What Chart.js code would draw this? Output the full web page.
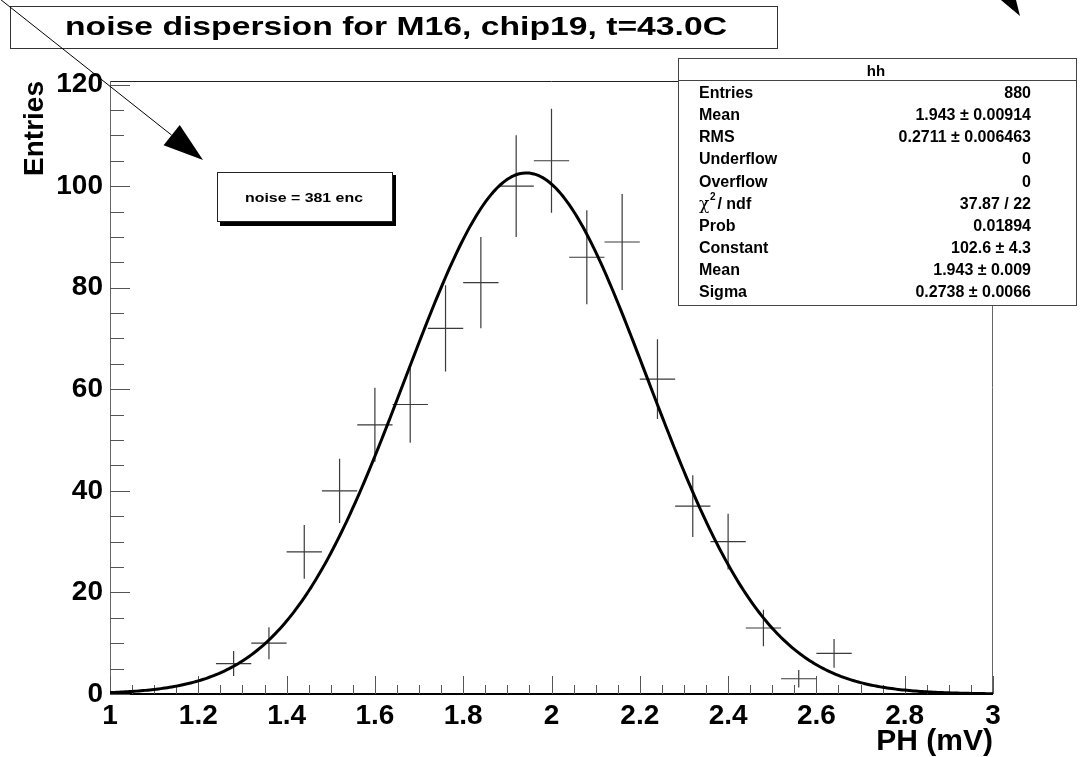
<!DOCTYPE html>
<html>
<head>
<meta charset="utf-8">
<script src="https://cdn.jsdelivr.net/npm/chart.js@4.4.1/dist/chart.umd.min.js"></script>
<style>
html,body{margin:0;padding:0;background:#fff;}
#wrap{width:1083px;height:757px;position:relative;background:#fff;}
canvas{display:block;}
</style>
</head>
<body>
<div id="wrap"><canvas id="c" width="1083" height="757"></canvas></div>
<script>
// ---------------- data ----------------
const binCenters = [1.28, 1.36, 1.44, 1.52, 1.60, 1.68, 1.76, 1.84, 1.92, 2.00, 2.08, 2.16, 2.24, 2.32, 2.40, 2.48, 2.56, 2.64];
const binCounts  = [6, 10, 28, 40, 53, 57, 72, 81, 100, 105, 86, 89, 62, 37, 30, 13, 3, 8];
const binHalfWidth = 0.04;

// Gaussian fit parameters shown in the stats box
const fitConstant = 102.6;
const fitMean = 1.943;
const fitSigma = 0.2738;
const fitRange = [1, 3];

const xTickValues = [1, 1.2, 1.4, 1.6, 1.8, 2, 2.2, 2.4, 2.6, 2.8, 3];
const xTickLabels = ['1', '1.2', '1.4', '1.6', '1.8', '2', '2.2', '2.4', '2.6', '2.8', '3'];
const yTickValues = [0, 20, 40, 60, 80, 100, 120];
const yTickLabels = ['0', '20', '40', '60', '80', '100', '120'];

const titleText = 'noise dispersion for M16, chip19, t=43.0C';
const xTitle = 'PH (mV)';
const yTitle = 'Entries';
const noiseText = 'noise = 381 enc';
const statsName = 'hh';
const statsLabels = ['Entries', 'Mean', 'RMS', 'Underflow', 'Overflow', 'CHI2', 'Prob', 'Constant', 'Mean', 'Sigma'];
const statsValues = ['880', '1.943 \u00b1 0.00914', '0.2711 \u00b1 0.006463', '0', '0', '37.87 / 22', '0.01894', '102.6 \u00b1 4.3', '1.943 \u00b1 0.009', '0.2738 \u00b1 0.0066'];

// ---------------- fit curve (evaluated fit function) ----------------
const fitPoints = [];
for (let k = 0; k <= 400; k++) {
  const x = fitRange[0] + (fitRange[1] - fitRange[0]) * k / 400;
  fitPoints.push({x: x, y: fitConstant * Math.exp(-0.5 * Math.pow((x - fitMean) / fitSigma, 2))});
}

const FONT = '"Liberation Sans", Arial, Helvetica, sans-serif';

function stretchText(ctx, txt, x, y, size, targetW, align) {
  ctx.save();
  ctx.font = 'bold ' + size + 'px ' + FONT;
  const w = ctx.measureText(txt).width;
  const sx = targetW ? targetW / w : 1;
  ctx.textBaseline = 'alphabetic';
  ctx.textAlign = align || 'left';
  ctx.translate(x, y);
  ctx.scale(sx, 1);
  ctx.fillStyle = '#000';
  ctx.fillText(txt, 0, 0);
  ctx.restore();
}

function arrow(ctx, x0, y0, x1, y1, len, half) {
  const dx = x1 - x0, dy = y1 - y0;
  const d = Math.hypot(dx, dy);
  const ux = dx / d, uy = dy / d;
  const bx = x1 - ux * len, by = y1 - uy * len;
  ctx.save();
  ctx.strokeStyle = '#000';
  ctx.lineWidth = 1;
  ctx.beginPath();
  ctx.moveTo(x0, y0);
  ctx.lineTo(bx, by);
  ctx.stroke();
  ctx.fillStyle = '#000';
  ctx.beginPath();
  ctx.moveTo(x1, y1);
  ctx.lineTo(bx - uy * half, by + ux * half);
  ctx.lineTo(bx + uy * half, by - ux * half);
  ctx.closePath();
  ctx.fill();
  ctx.restore();
}

const rootPlugin = {
  id: 'rootStyle',
  beforeDatasetsDraw(chart) {
    const {ctx, chartArea: a, scales: {x, y}} = chart;
    ctx.save();
    // frame
    ctx.lineWidth = 1;
    ctx.strokeStyle = '#222';
    ctx.beginPath(); ctx.moveTo(a.left, a.top + 0.5); ctx.lineTo(a.right, a.top + 0.5); ctx.stroke();
    ctx.strokeStyle = '#666';
    ctx.beginPath(); ctx.moveTo(a.right - 0.5, a.top); ctx.lineTo(a.right - 0.5, a.bottom); ctx.stroke();
    ctx.beginPath(); ctx.moveTo(a.left + 0.5, a.top); ctx.lineTo(a.left + 0.5, a.bottom); ctx.stroke();
    ctx.strokeStyle = '#000';
    ctx.lineWidth = 2;
    ctx.beginPath(); ctx.moveTo(a.left, a.bottom); ctx.lineTo(a.right, a.bottom); ctx.stroke();

    // y ticks (inside)
    ctx.lineWidth = 1;
    ctx.strokeStyle = '#555';
    for (let v = 0; v <= y.max + 1e-9; v += 5) {
      const py = Math.round(y.getPixelForValue(v)) + 0.5;
      const major = Math.abs(v % 20) < 1e-9;
      const L = major ? 20 : 14;
      ctx.beginPath(); ctx.moveTo(a.left, py); ctx.lineTo(a.left + L, py); ctx.stroke();
    }
    // x ticks (inside)
    for (let k = 0; k <= 40; k++) {
      const v = 1 + k * 0.05;
      const px = Math.round(x.getPixelForValue(v)) + 0.5;
      const major = (k % 4) === 0;
      const L = major ? 18 : 9;
      ctx.beginPath(); ctx.moveTo(px, a.bottom); ctx.lineTo(px, a.bottom - L); ctx.stroke();
    }

    // data points with error bars
    ctx.strokeStyle = '#3a3a3a';
    ctx.lineWidth = 1.2;
    binCenters.forEach((c, i) => {
      const n = binCounts[i];
      const e = Math.sqrt(n);
      const px = x.getPixelForValue(c);
      const py = y.getPixelForValue(n);
      ctx.beginPath();
      ctx.moveTo(x.getPixelForValue(c - binHalfWidth), py);
      ctx.lineTo(x.getPixelForValue(c + binHalfWidth), py);
      ctx.moveTo(px, y.getPixelForValue(n - e));
      ctx.lineTo(px, y.getPixelForValue(n + e));
      ctx.stroke();
    });
    ctx.restore();
  },
  afterDraw(chart) {
    const ctx = chart.ctx;
    ctx.save();
    // title box
    ctx.fillStyle = '#fff';
    ctx.fillRect(10, 6, 767, 42);
    ctx.strokeStyle = '#333';
    ctx.lineWidth = 1;
    ctx.strokeRect(10.5, 6.5, 767, 42);
    stretchText(ctx, titleText, 396, 35, 25.5, 662, 'center');

    // noise box with shadow
    ctx.fillStyle = '#000';
    ctx.fillRect(220, 175, 176, 51);
    ctx.fillStyle = '#fff';
    ctx.fillRect(217, 172, 176, 50);
    ctx.strokeStyle = '#222';
    ctx.strokeRect(217.5, 172.5, 175, 49);
    stretchText(ctx, noiseText, 304, 202, 12.5, 118, 'center');

    // stats box
    ctx.fillStyle = '#fff';
    ctx.fillRect(678, 58, 399, 248);
    ctx.strokeStyle = '#444';
    ctx.strokeRect(678.5, 58.5, 398, 247);
    ctx.beginPath(); ctx.moveTo(678, 80.5); ctx.lineTo(1077, 80.5); ctx.stroke();
    stretchText(ctx, statsName, 876, 76, 15, 0, 'center');
    for (let i = 0; i < statsLabels.length; i++) {
      const by = 98.3 + 22.05 * i;
      if (statsLabels[i] === 'CHI2') {
        ctx.save();
        ctx.fillStyle = '#000';
        ctx.font = '17px "DejaVu Serif", "Liberation Serif", serif';
        ctx.textBaseline = 'alphabetic';
        ctx.textAlign = 'left';
        ctx.fillText('\u03c7', 699, by);
        ctx.font = 'bold 10px ' + FONT;
        ctx.fillText('2', 710, by - 9);
        ctx.font = 'bold 16px ' + FONT;
        ctx.fillText(' / ndf', 713, by);
        ctx.restore();
      } else {
        stretchText(ctx, statsLabels[i], 699, by, 16, 0, 'left');
      }
      stretchText(ctx, statsValues[i], 1031, by, 16, 0, 'right');
    }

    // arrows
    arrow(ctx, -2, -2.5, 203, 160, 40, 13);
    const ang = 58 * Math.PI / 180;
    arrow(ctx, 1020 - 220 * Math.cos(ang), 16 - 220 * Math.sin(ang), 1020, 16, 40, 13);
    ctx.restore();
  }
};

const tickFont = {family: FONT, weight: 'bold', size: 28, lineHeight: 1};

function labelFor(values, labels, v) {
  const i = values.findIndex(t => Math.abs(t - v) < 1e-9);
  return i >= 0 ? labels[i] : '';
}

new Chart(document.getElementById('c'), {
  type: 'scatter',
  data: {
    datasets: [
      {
        label: 'hh',
        data: binCenters.map((c, i) => ({x: c, y: binCounts[i]})),
        pointRadius: 0,
        pointHoverRadius: 0,
        showLine: false
      },
      {
        label: 'fit',
        type: 'line',
        data: fitPoints,
        borderColor: '#000',
        borderWidth: 3,
        pointRadius: 0,
        pointHoverRadius: 0,
        fill: false,
        tension: 0
      }
    ]
  },
  options: {
    responsive: false,
    animation: false,
    devicePixelRatio: 1,
    events: [],
    layout: {padding: {top: 81, right: 90, left: 0, bottom: 0}},
    plugins: {legend: {display: false}, tooltip: {enabled: false}, title: {display: false}},
    scales: {
      x: {
        type: 'linear',
        min: 1, max: 3,
        grid: {display: false, drawTicks: false},
        border: {display: false},
        afterBuildTicks: s => { s.ticks = xTickValues.map(v => ({value: v})); },
        afterFit: s => { s.height = 63; },
        ticks: {
          callback: v => labelFor(xTickValues, xTickLabels, v),
          font: tickFont, color: '#000', padding: 8,
          maxRotation: 0, minRotation: 0, autoSkip: false
        },
        title: {
          display: true, text: xTitle, align: 'end', color: '#000',
          font: {family: FONT, weight: 'bold', size: 30, lineHeight: 1},
          padding: {top: 0, bottom: 0}
        }
      },
      y: {
        type: 'linear',
        min: 0, max: 120.7,
        grid: {display: false, drawTicks: false},
        border: {display: false},
        afterBuildTicks: s => { s.ticks = yTickValues.map(v => ({value: v})); },
        afterFit: s => { s.width = 110; },
        ticks: {
          callback: v => labelFor(yTickValues, yTickLabels, v),
          font: tickFont, color: '#000', padding: 7, autoSkip: false
        },
        title: {
          display: true, text: yTitle, align: 'end', color: '#000',
          font: {family: FONT, weight: 'bold', size: 28, lineHeight: 1.2},
          padding: {top: 18, bottom: 0}
        }
      }
    }
  },
  plugins: [rootPlugin]
});
</script>
</body>
</html>
